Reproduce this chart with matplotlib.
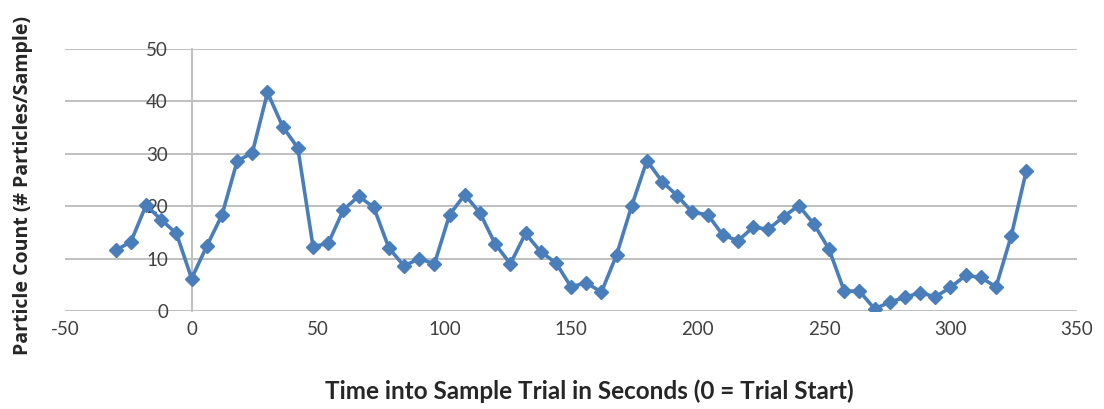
import matplotlib
matplotlib.use('Agg')
import matplotlib.pyplot as plt

# time into trial (s) and particle counts
seconds = list(range(-30, 331, 6))
counts = [11.6, 13.2, 20.2, 17.4, 14.8, 6.2, 12.4, 18.3, 28.6, 30.2,
          41.7, 35.2, 31.1, 12.3, 12.9, 19.3, 21.9, 19.8, 12.0, 8.6,
          10.0, 9.0, 18.4, 22.2, 18.7, 12.8, 9.0, 14.8, 11.3, 9.2,
          4.6, 5.4, 3.6, 10.7, 20.1, 28.7, 24.7, 22.0, 18.8, 18.4,
          14.5, 13.4, 16.0, 15.6, 18.0, 20.1, 16.6, 11.8, 3.8, 3.8,
          0.4, 1.7, 2.6, 3.5, 2.7, 4.5, 6.8, 6.4, 4.6, 14.3,
          26.8]
x_ticks = [-50, 0, 50, 100, 150, 200, 250, 300, 350]
y_ticks = [0, 10, 20, 30, 40, 50]

plt.rcParams['font.family'] = ['Lato', 'DejaVu Sans']
plt.rcParams['axes.unicode_minus'] = False

fig = plt.figure(figsize=(11.04, 4.09), dpi=100)
ax = fig.add_axes([0.059, 0.2396, 0.9165, 0.6406])

grid_c = '#bfbfbf'
ax.set_axisbelow(True)
ax.yaxis.grid(True, color=grid_c, lw=1.4)

ax.plot(seconds, counts, color='#4a7ebb', lw=2.6, marker='D',
        markersize=7.5, markerfacecolor='#4a7ebb', markeredgecolor='#4a7ebb',
        zorder=3)

ax.set_xlim(-50, 350)
ax.set_ylim(0, 50)
ax.set_xticks(x_ticks)
ax.set_yticks(y_ticks)

# vertical axis sits at x = 0, its labels next to it
ax.spines['left'].set_position(('data', 0))
ax.spines['left'].set_color(grid_c)
ax.spines['left'].set_linewidth(1.4)
for s in ['top', 'right', 'bottom']:
    ax.spines[s].set_visible(False)

ax.tick_params(length=0, labelsize=13.5, colors='#404040', pad=7)
ax.tick_params(axis='y', pad=17)

ax.set_xlabel('Time into Sample Trial in Seconds (0 = Trial Start)',
              fontsize=17.5, fontweight='bold', color='#262626')
ax.xaxis.set_label_coords(0.518, -0.26)
ax.set_ylabel('Particle Count (# Particles/Sample)', family=['Open Sans', 'DejaVu Sans'],
              fontsize=14, fontweight='bold', color='#262626')
ax.yaxis.set_label_coords(-0.032, 0.48)

fig.savefig('out.png', dpi=100)
